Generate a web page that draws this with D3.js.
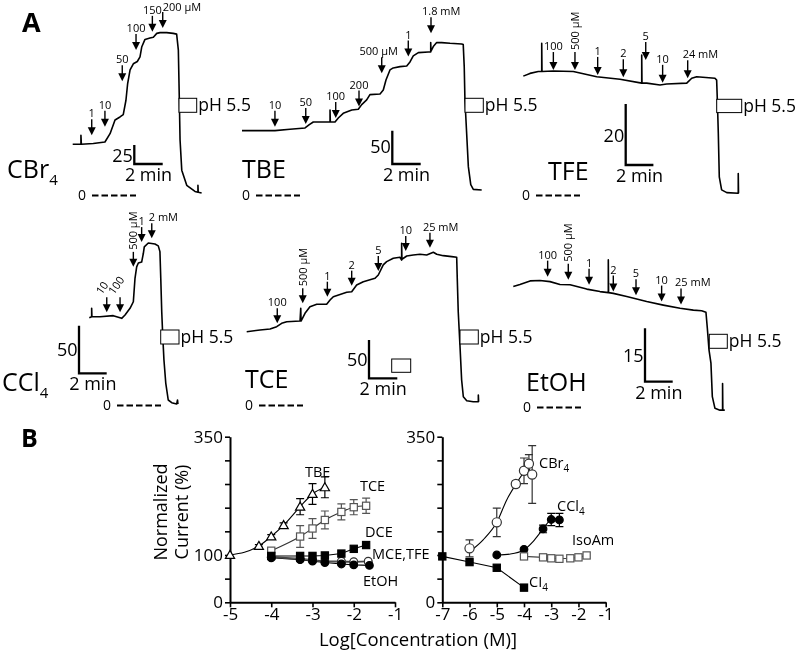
<!DOCTYPE html>
<html><head><meta charset="utf-8">
<script src="https://cdn.jsdelivr.net/npm/d3@7"></script>
<style>
body{margin:0;background:#fff;}
svg{font-family:"Open Sans",sans-serif;will-change:transform;}
</style></head><body>
<svg id="c" width="798" height="653"></svg>
<script>
// ===== Panel A data: traces as [time (min), current (scale units)] =====
const traceCBr4 = [[0,68],[0.58,68],[0.58,80],[0.61,68],[1.45,69],[2.27,71],[2.63,82],[2.98,100],[3.33,104],[3.56,107],[3.75,126],[3.87,148],[4.04,166],[4.27,174],[4.55,177],[4.74,183],[4.86,196],[5.09,206],[5.44,208],[5.68,209],[5.92,214],[6.15,215],[6.62,215],[7.08,214],[7.32,213],[7.44,192],[7.51,126],[7.56,74],[7.68,34],[8.03,14],[8.61,6],[8.82,5],[8.82,14],[8.84,5],[9.08,4]];
const traceTBE = [[0,98],[1.27,98],[2.32,98],[3.38,100],[4.44,102],[4.74,107],[5.02,111],[5.73,111],[6.2,111],[6.2,129],[6.22,111],[6.55,111],[6.78,117],[7.13,124],[7.73,129],[8.19,130],[8.43,137],[8.78,144],[9.01,152],[9.72,153],[9.95,159],[10.14,174],[10.42,189],[10.65,192],[11.13,194],[11.6,195],[11.83,201],[12.06,210],[12.42,215],[13.12,216],[13.29,216],[13.29,230],[13.31,217],[13.47,224],[13.71,230],[14.06,230],[14.65,229],[15.47,228],[15.58,227],[15.65,194],[15.7,144],[15.82,94],[15.94,44],[16.11,17],[16.29,10],[16.88,9]];
const traceTFE = [[0,39.3],[0.48,40.2],[1.08,40.8],[1.33,40.8],[1.33,50.1],[1.35,40.8],[2.17,41],[3.61,40.8],[5.3,39.1],[6.98,38.3],[8.55,37],[8.55,46.2],[8.57,37],[8.91,37],[9.87,36.4],[10.35,36.7],[11.8,37],[12.16,38.6],[12.52,39.1],[13.84,38.6],[13.96,38],[14.01,31.5],[14.08,20.6],[14.15,6.3],[14.32,2],[14.69,1.1],[15.52,0.9],[15.52,7.4],[15.54,0.9]];
const traceCCl4 = [[0,92.7],[0.17,93.7],[0.17,102.5],[0.19,93.7],[0.77,93.7],[1.73,94.8],[2.34,92],[2.58,95.5],[2.94,102.5],[3.18,109.4],[3.3,134],[3.42,146],[3.54,150],[3.78,151],[3.9,160],[3.97,167],[4.26,171],[4.74,170],[4.98,168],[5.1,162],[5.16,134],[5.23,99],[5.3,74.5],[5.39,48.3],[5.52,24.1],[5.7,6.3],[5.95,3.5],[6.31,2.1],[6.37,6.3],[6.4,2.1]];
const traceTCE = [[0,95.6],[0.94,97.8],[1.65,99.1],[2.12,102.1],[2.47,106.5],[2.83,108.6],[3.77,109.5],[3.82,126],[3.84,109.5],[4.12,119.6],[4.47,128.2],[4.95,131.3],[5.65,131.3],[5.89,136.9],[6.12,141.2],[7.07,147],[7.42,147.7],[7.77,156.5],[8.24,160.8],[9.07,165.2],[9.3,169.5],[9.65,182.6],[9.89,186.9],[10.36,191.3],[10.83,192.6],[10.95,189],[10.95,210.9],[10.97,190],[11.31,194.3],[11.77,195.6],[12.25,196.5],[12.72,195.6],[13.19,199.1],[13.43,196.5],[13.89,194.7],[14.49,193.4],[14.84,192.6],[14.88,165.2],[14.95,121.7],[15.07,78.2],[15.19,32.6],[15.31,10.8],[15.55,5.6],[16.01,4.3],[16.37,4.3],[16.37,13],[16.39,4.3]];
const traceEtOH = [[0,34.1],[0.48,34.7],[1.21,35.7],[1.93,35.8],[2.65,35.5],[3.37,34.7],[4.1,34.6],[5.3,33.4],[6.26,32.7],[6.86,32.4],[6.86,41.6],[6.88,32.4],[7.22,32.2],[8.19,31.3],[9.63,29.9],[10.83,28.9],[12.04,28],[13,27.5],[13.6,27.3],[13.91,26.9],[14.01,22.4],[14.13,16.3],[14.27,12.6],[14.37,3.2],[14.56,-0.1],[14.92,-0.6],[15.11,-0.6],[15.11,6.9],[15.13,-0.6],[15.27,-0.6]];

// application arrows: [time (min), current at arrow tip, concentration label]
const arrowsCBr4 = [[1.34,80,"1"],[2.27,91,"10"],[3.49,151,"50"],[4.46,192,"100"],[5.61,216,"150"],[6.34,221,"200 µM"]];
const arrowsTBE = [[2.32,104,"10"],[4.49,108,"50"],[6.6,117,"100"],[8.24,134,"200"],[9.84,184,"500 µM"],[11.71,209,"1"],[13.31,244,"1.8 mM"]];
const arrowsTFE = [[2.17,41.3,"100"],[3.73,41.3,"500 µM"],[5.37,39.7,"1"],[7.22,38.9,"2"],[8.84,44.6,"5"],[10.06,37.1,"10"],[11.87,38.6,"24 mM"]];
const arrowsCCl4 = [[1.26,98.3,"10"],[2.22,98.3,"100"],[3.18,146,"500 µM"],[3.78,172,"1"],[4.51,176,"2 mM"]];
const arrowsTCE = [[2.16,106.5,"100"],[3.96,132.6,"500 µM"],[5.7,141.2,"1"],[7.42,155.6,"2"],[9.3,174.7,"5"],[11.24,200.8,"10"],[12.95,205.1,"25 mM"]];
const arrowsEtOH = [[2.48,36.9,"100"],[3.97,36,"500 µM"],[5.47,34.6,"1"],[7.22,32.7,"2"],[8.86,31.7,"5"],[10.71,29.9,"10"],[12.11,29.1,"25 mM"]];

// scale bars: [current units, minutes]
const barCBr4 = [25,2], barTBE = [50,2], barTFE = [20,2], barCCl4 = [50,2], barTCE = [50,2], barEtOH = [15,2];
const panelNames = [["CBr","4"],["TBE",""],["TFE",""],["CCl","4"],["TCE",""],["EtOH",""]];

// ===== Panel B data =====
const xTicksL = [-5,-4,-3,-2,-1], xTicksR = [-7,-6,-5,-4,-3,-2,-1];
const yTicks = [0,50,100,150,200,250,300,350];
const yTickLabelsL = [0,100,350], yTickLabelsR = [0,350];
const tbeX = [-5,-4.3,-4,-3.7,-3.3,-3,-2.7], tbeY = [100,119,139,163,202,229,243], tbeErr = [0,3,4,5,17,22,22];
const tceX = [-4,-3.3,-3,-2.7,-2.3,-2,-1.7], tceY = [109,139,156,174,191,201,204], tceErr = [4,23,21,19,17,16,16];
const dceX = [-4,-3.3,-3,-2.7,-2.3,-2,-1.7], dceY = [98,98,98,99,103,113,121];
const mceX = [-4,-3.3,-3,-2.7,-2.3,-2,-1.65], mceY = [96,93,90,87,87,86,87];
const tfeX = [-4,-3.3,-3,-2.7,-2.3,-2,-1.65], tfeY = [95,91,88,86,85,85,86];
const etohX = [-4,-3.3,-3,-2.7,-2.3,-2,-1.62], etohY = [94,90,87,84,81,79,78];
const cbr4X = [-6,-5,-4.3,-4,-3.82,-3.7], cbr4Y = [114,169,250,278,293,270], cbr4Err = [18,30,6,27,19,61];
const cbr4FitX = [-6,-5.5,-5,-4.63,-4.29,-4,-3.78], cbr4FitY = [107,132,169,217,250,274,281];
const ccl4X = [-5,-4,-3.3,-3,-2.7], ccl4Y = [100,112,155,175,174], ccl4Err = [0,0,8,13,14];
const ccl4FitX = [-5,-4.5,-4,-3.66,-3.3,-3,-2.7], ccl4FitY = [100,102,111,129,155,175,178];
const isoX = [-4,-3.3,-3,-2.7,-2.3,-2,-1.7], isoY = [97,95,93,92,93,95,99];
const ci4X = [-7,-6,-5,-4], ci4Y = [97,85,73,31];

// ===== layout =====
const svg = d3.select("#c");
const panelLayout = [
 {trace:traceCBr4, arrows:arrowsCBr4, bar:barCBr4, name:panelNames[0], x0:72.7, y0:196, ppm:14.2, ppu:0.76, len:16,
  nameX:7, nameY:178, barX:134.3, barY:164, barLabY:162, zeroX:78, zeroY:200, ph:[179,98.3,17.7,14],
  lab:{"200 µM":{anchor:"start",dx:0,dy:1}}},
 {trace:traceTBE, arrows:arrowsTBE, bar:barTBE, name:panelNames[1], x0:242, y0:196, ppm:14.2, ppu:0.667, len:16,
  nameX:242, nameY:178, barX:392.3, barY:164, barLabY:153, zeroX:242, zeroY:200, ph:[465,98.3,18.3,14],
  lab:{"1.8 mM":{anchor:"start",dx:-9},"500 µM":{dx:-3}}},
 {trace:traceTFE, arrows:arrowsTFE, bar:barTFE, name:panelNames[2], x0:523.3, y0:196, ppm:13.85, ppu:3.05, len:18,
  nameX:548, nameY:180, barX:625.7, barY:165, barLabY:142, zeroX:522, zeroY:200, ph:[716.7,99.3,25,13.3],
  lab:{"500 µM":{rot:-90},"24 mM":{anchor:"start",dx:-5}}},
 {trace:traceCCl4, arrows:arrowsCCl4, bar:barCCl4, name:panelNames[3], x0:89.3, y0:406, ppm:13.85, ppu:0.953, len:15,
  nameX:2, nameY:391, barX:79, barY:373.3, barLabY:356, zeroX:103, zeroY:410, ph:[160.7,330,18.3,14],
  lab:{"10":{rot:-55,dx:-5},"100":{rot:-55,dx:-6},"500 µM":{rot:-90},"2 mM":{anchor:"start",dx:-3}}},
 {trace:traceTCE, arrows:arrowsTCE, bar:barTCE, name:panelNames[4], x0:246.7, y0:405, ppm:14.15, ppu:0.767, len:15,
  nameX:245, nameY:388, barX:369, barY:378.3, barLabY:366, zeroX:245, zeroY:410, ph:[460,330,18.3,14],
  lab:{"500 µM":{rot:-90},"25 mM":{anchor:"start",dx:-7}}, extraBox:[391.7,359,19,13.3]},
 {trace:traceEtOH, arrows:arrowsEtOH, bar:barEtOH, name:panelNames[5], x0:513.3, y0:408, ppm:13.85, ppu:3.56, len:16,
  nameX:526, nameY:391, barX:645, barY:381.7, barLabY:362, zeroX:523, zeroY:412, ph:[709.3,334.3,18,14],
  lab:{"500 µM":{rot:-90},"25 mM":{anchor:"start",dx:-6}}}
];

function drawPanel(p){
  const x = d3.scaleLinear().domain([0,1]).range([p.x0, p.x0+p.ppm]);
  const y = d3.scaleLinear().domain([0,1]).range([p.y0, p.y0-p.ppu]);
  const g = svg.append("g");
  g.append("path").datum(p.trace)
    .attr("d", d3.line().x(d=>x(d[0])).y(d=>y(d[1])))
    .attr("fill","none").attr("stroke","#000").attr("stroke-width",1.6).attr("stroke-linejoin","round");
  p.arrows.forEach(a=>{
    const ax = x(a[0]), tip = y(a[1]), len = p.len;
    g.append("line").attr("x1",ax).attr("x2",ax).attr("y1",tip-len).attr("y2",tip-6)
      .attr("stroke","#000").attr("stroke-width",1.4);
    g.append("path").attr("d",`M${ax-4},${tip-8}L${ax+4},${tip-8}L${ax},${tip}Z`).attr("fill","#000");
    const lay = p.lab[a[2]] || {};
    const t = g.append("text").text(a[2]).attr("font-size",11).attr("fill","#000");
    if (lay.rot){
      t.attr("text-anchor","start")
       .attr("transform",`translate(${ax+(lay.dx!==undefined?lay.dx:4)},${tip-len-2}) rotate(${lay.rot})`);
    } else {
      t.attr("x", ax+(lay.dx||0)).attr("y", tip-len-2+(lay.dy||0)).attr("text-anchor", lay.anchor||"middle");
    }
  });
  // pH box
  g.append("rect").attr("x",p.ph[0]).attr("y",p.ph[1]).attr("width",p.ph[2]).attr("height",p.ph[3])
    .attr("fill","#fff").attr("stroke","#000").attr("stroke-width",1);
  g.append("text").text("pH 5.5").attr("x",p.ph[0]+p.ph[2]+1.5).attr("y",p.ph[1]+p.ph[3]-1)
    .attr("font-size",17.5);
  if (p.extraBox) g.append("rect").attr("x",p.extraBox[0]).attr("y",p.extraBox[1]).attr("width",p.extraBox[2])
    .attr("height",p.extraBox[3]).attr("fill","#fff").attr("stroke","#000").attr("stroke-width",1);
  // scale bar
  const vlen = y(0)-y(p.bar[0]), hlen = x(p.bar[1])-x(0);
  g.append("path").attr("d",`M${p.barX},${p.barY-vlen}V${p.barY}H${p.barX+hlen}`)
    .attr("fill","none").attr("stroke","#000").attr("stroke-width",2.3);
  g.append("text").text(p.bar[0]).attr("x",p.barX-1.5).attr("y",p.barLabY).attr("text-anchor","end").attr("font-size",18);
  g.append("text").text(p.bar[1]+" min").attr("x",p.barX+hlen/2).attr("y",p.barY+17).attr("text-anchor","middle").attr("font-size",18);
  // name
  const nt = g.append("text").attr("x",p.nameX).attr("y",p.nameY).attr("font-size",25);
  nt.append("tspan").text(p.name[0]);
  if (p.name[1]) nt.append("tspan").text(p.name[1]).attr("font-size",15).attr("dy",7);
  // zero level
  g.append("text").text("0").attr("x",p.zeroX).attr("y",p.zeroY).attr("font-size",14);
  g.append("line").attr("x1",p.zeroX+14).attr("x2",p.zeroX+58).attr("y1",p.zeroY-4.5).attr("y2",p.zeroY-4.5)
    .attr("stroke","#000").attr("stroke-width",2.2).attr("stroke-dasharray","6.5,3");
}
panelLayout.forEach(drawPanel);

svg.append("text").text("A").attr("x",22).attr("y",32).attr("font-size",27).attr("font-weight","bold");
svg.append("text").text("B").attr("x",21).attr("y",447).attr("font-size",25).attr("font-weight","bold");

// ===== Panel B =====
const yL = d3.scaleLinear().domain([0,350]).range([602.3,436.7]);
const xL = d3.scaleLinear().domain([-5,-1]).range([230,395]);
const xR = d3.scaleLinear().domain([-7,-1]).range([442.3,605.7]);
const yR = yL.copy();

function axes(xs, ys, xt, yLabs){
  const gy = svg.append("g").attr("transform",`translate(${xs.range()[0]},0)`)
    .call(d3.axisLeft(ys).tickValues(yTicks).tickSize(5).tickSizeOuter(0).tickPadding(2)
      .tickFormat(d=> yLabs.includes(d) ? String(d) : ""));
  const gx = svg.append("g").attr("transform",`translate(0,${ys.range()[0]})`)
    .call(d3.axisBottom(xs).tickValues(xt).tickSize(5).tickSizeOuter(0).tickPadding(1).tickFormat(d=>String(d)));
  [gx,gy].forEach(g=>{
    g.select(".domain").attr("stroke-width",2);
    g.selectAll(".tick line").attr("stroke-width",1.6);
    g.selectAll("text").attr("font-size",17).attr("font-family","Open Sans");
  });
}
axes(xL,yL,xTicksL,yTickLabelsL);
axes(xR,yR,xTicksR,yTickLabelsR);

function zip(a,b){return a.map((v,i)=>[v,b[i]]);}
function line(xs,ys,X,Y,curve,color,w){
  svg.append("path").datum(zip(X,Y))
    .attr("d",d3.line().x(d=>xs(d[0])).y(d=>ys(d[1])).curve(curve||d3.curveLinear))
    .attr("fill","none").attr("stroke",color||"#000").attr("stroke-width",w||1.1);
}
function errs(xs,ys,X,Y,E,color){
  X.forEach((v,i)=>{
    if(!E[i]) return;
    const cx=xs(v), y1=ys(Y[i]-E[i]), y2=ys(Y[i]+E[i]);
    svg.append("path").attr("d",`M${cx},${y1}V${y2}M${cx-4},${y1}H${cx+4}M${cx-4},${y2}H${cx+4}`)
      .attr("stroke",color||"#000").attr("stroke-width",1.2).attr("fill","none");
  });
}
function marks(xs,ys,X,Y,shape,fill,stroke){
  X.forEach((v,i)=>{
    const cx=xs(v), cy=ys(Y[i]);
    let el;
    if(shape==="sq") el=svg.append("rect").attr("x",cx-3.6).attr("y",cy-3.6).attr("width",7.2).attr("height",7.2);
    else if(shape==="tri") el=svg.append("path").attr("d",`M${cx},${cy-4.6}L${cx+4.6},${cy+3.4}L${cx-4.6},${cy+3.4}Z`);
    else el=svg.append("circle").attr("cx",cx).attr("cy",cy).attr("r",shape==="bigc"?4.6:3.8);
    el.attr("fill",fill).attr("stroke",stroke||"#000").attr("stroke-width",1.2);
  });
}

// left plot
line(xL,yL,etohX,etohY); line(xL,yL,tfeX,tfeY,null,"#444"); line(xL,yL,mceX,mceY,null,"#444");
line(xL,yL,dceX,dceY);
line(xL,yL,tbeX,tbeY,d3.curveMonotoneX);
line(xL,yL,tceX,tceY,d3.curveMonotoneX,"#333");
errs(xL,yL,tbeX,tbeY,tbeErr); errs(xL,yL,tceX,tceY,tceErr,"#555");
marks(xL,yL,tbeX,tbeY,"tri","#fff");
marks(xL,yL,tceX,tceY,"sq","#fff","#555");
marks(xL,yL,tfeX,tfeY,"c","#555","#333");
marks(xL,yL,mceX,mceY,"c","#fff","#333");
marks(xL,yL,etohX,etohY,"c","#000");
marks(xL,yL,dceX,dceY,"sq","#000");

// right plot
line(xR,yR,ci4X,ci4Y);
line(xR,yR,isoX,isoY,null,"#444");
line(xR,yR,cbr4FitX,cbr4FitY,d3.curveMonotoneX);
line(xR,yR,ccl4FitX,ccl4FitY,d3.curveMonotoneX);
errs(xR,yR,cbr4X,cbr4Y,cbr4Err,"#333"); errs(xR,yR,ccl4X,ccl4Y,ccl4Err);
marks(xR,yR,cbr4X,cbr4Y,"bigc","#fff","#333");
marks(xR,yR,ccl4X,ccl4Y,"c","#000");
marks(xR,yR,isoX,isoY,"sq","#fff","#555");
marks(xR,yR,ci4X,ci4Y,"sq","#000");

// series labels
const seriesLabels = [["TBE","",305,477],["TCE","",360,491],["DCE","",365,537],["MCE,TFE","",372,559],["EtOH","",363,586],
  ["CBr","4",539,468],["CCl","4",557,511],["IsoAm","",572,545],["CI","4",529,587]];
seriesLabels.forEach(s=>{
  const t=svg.append("text").attr("x",s[2]).attr("y",s[3]).attr("font-size",14.5);
  t.append("tspan").text(s[0]);
  if(s[1]) t.append("tspan").text(s[1]).attr("font-size",10).attr("dy",4);
});

// axis titles
svg.append("text").text("Normalized").attr("transform","translate(167,512) rotate(-90)").attr("text-anchor","middle").attr("font-size",18);
svg.append("text").text("Current (%)").attr("transform","translate(188,512) rotate(-90)").attr("text-anchor","middle").attr("font-size",18);
svg.append("text").text("Log[Concentration (M)]").attr("x",418).attr("y",646).attr("text-anchor","middle").attr("font-size",18.5);
</script>
</body></html>
